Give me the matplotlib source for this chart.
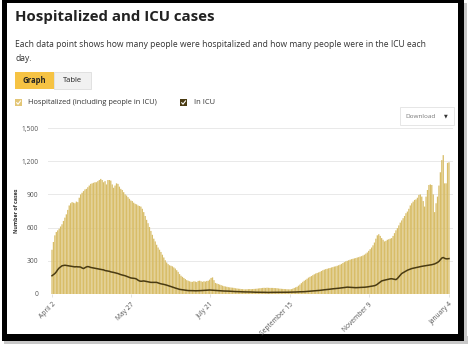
import numpy as np
import pandas as pd
import matplotlib
matplotlib.use("Agg")
import matplotlib.pyplot as plt
import matplotlib.dates as mdates
from matplotlib.patches import Rectangle

# daily values, April 2 2020 .. January 4 2021
hospitalized = [
    400, 470, 530, 560, 575, 590, 610,
    630, 660, 690, 720, 760, 800, 820,
    830, 825, 820, 835, 830, 870, 900,
    915, 930, 945, 950, 965, 980, 995,
    1000, 1005, 1010, 1010, 1020, 1030, 1040,
    1030, 1010, 1020, 990, 1030, 1030, 1025,
    990, 960, 980, 1000, 995, 970, 950,
    940, 920, 900, 890, 875, 860, 845,
    840, 825, 815, 810, 800, 795, 790,
    770, 740, 705, 670, 640, 605, 570,
    535, 500, 475, 445, 420, 400, 380,
    355, 330, 305, 285, 270, 260, 255,
    250, 240, 230, 215, 200, 180, 165,
    155, 145, 135, 125, 120, 115, 110,
    110, 115, 112, 108, 118, 120, 115,
    110, 115, 112, 118, 120, 130, 145,
    150, 125, 100, 95, 90, 85, 80,
    75, 70, 68, 65, 62, 60, 58,
    57, 55, 52, 50, 48, 47, 45,
    44, 42, 42, 43, 44, 45, 44,
    45, 46, 47, 48, 50, 52, 53,
    55, 56, 55, 57, 56, 55, 55,
    55, 54, 53, 52, 50, 48, 47,
    46, 45, 44, 43, 42, 42, 44,
    48, 55, 60, 65, 75, 85, 98,
    110, 120, 128, 138, 148, 155, 162,
    170, 178, 185, 190, 195, 200, 208,
    215, 220, 225, 228, 232, 235, 240,
    243, 248, 250, 255, 260, 265, 272,
    280, 288, 295, 300, 305, 310, 315,
    318, 322, 325, 330, 333, 338, 342,
    348, 355, 365, 375, 390, 405, 420,
    440, 465, 500, 530, 540, 525, 505,
    490, 475, 480, 490, 495, 500, 505,
    525, 550, 575, 595, 620, 645, 665,
    685, 705, 730, 745, 770, 800, 820,
    835, 850, 855, 870, 895, 900, 880,
    840, 790, 880, 940, 985, 990, 985,
    900, 740, 820, 880, 980, 1100, 1210,
    1255, 1000, 1000, 1185, 1190,
]

in_icu = [
    165, 175, 185, 200, 220, 235, 245,
    255, 258, 260, 258, 255, 255, 252,
    250, 248, 245, 247, 245, 245, 243,
    235, 230, 238, 245, 248, 245, 240,
    238, 235, 232, 230, 228, 225, 222,
    220, 218, 212, 210, 207, 205, 200,
    198, 195, 192, 190, 185, 180, 175,
    172, 168, 165, 160, 155, 150, 145,
    143, 142, 140, 135, 125, 118, 115,
    117, 118, 116, 113, 110, 108, 105,
    105, 105, 104, 105, 100, 96, 92,
    90, 87, 84, 80, 76, 72, 68,
    63, 58, 54, 50, 46, 42, 40,
    38, 36, 34, 32, 31, 31, 30,
    30, 30, 29, 30, 30, 30, 31,
    32, 33, 34, 35, 35, 36, 35,
    34, 33, 32, 31, 30, 29, 28,
    28, 27, 27, 26, 26, 25, 25,
    24, 23, 22, 22, 21, 21, 20,
    20, 19, 19, 18, 18, 18, 18,
    17, 17, 16, 16, 16, 15, 15,
    15, 15, 15, 14, 14, 15, 15,
    15, 14, 14, 15, 15, 15, 15,
    15, 15, 16, 16, 16, 17, 17,
    17, 18, 18, 19, 19, 20, 20,
    21, 21, 22, 22, 23, 24, 25,
    26, 27, 28, 30, 31, 33, 35,
    36, 38, 39, 41, 42, 44, 45,
    47, 48, 50, 51, 52, 54, 55,
    57, 58, 60, 62, 61, 60, 59,
    58, 57, 57, 58, 58, 59, 60,
    60, 61, 62, 64, 66, 68, 70,
    72, 75, 80, 88, 98, 108, 118,
    122, 125, 128, 132, 135, 137, 138,
    135, 132, 130, 140, 155, 170, 185,
    192, 200, 208, 215, 220, 225, 230,
    233, 236, 240, 243, 245, 248, 250,
    252, 255, 256, 258, 260, 262, 265,
    268, 272, 278, 285, 295, 310, 325,
    330, 322, 318, 318, 320,
]

dates = pd.date_range("2020-04-02", periods=len(hospitalized), freq="D")
tick_dates = pd.to_datetime(["2020-04-02", "2020-05-27", "2020-07-21",
                             "2020-09-15", "2020-11-09", "2021-01-04"])
tick_labels = ["April 2", "May 27", "July 21", "September 15", "November 9", "January 4"]
y_ticks = [0, 300, 600, 900, 1200, 1500]

bar_col = "#d8bd68"
icu_col = "#4a3b12"

W, H = 468, 347
fig = plt.figure(figsize=(W / 100, H / 100), dpi=100)

# page frame drawn in pixel coordinates
bg = fig.add_axes([0, 0, 1, 1])
bg.set_xlim(0, W)
bg.set_ylim(H, 0)
bg.axis("off")
bg.add_patch(Rectangle((4, 336), 464, 8, color="#c8c8c8", lw=0))
bg.add_patch(Rectangle((460, 3), 7, 340, color="#c8c8c8", lw=0))
bg.add_patch(Rectangle((2, 0), 462, 341, color="black", lw=0))
bg.add_patch(Rectangle((7, 3), 451, 331, color="white", lw=0))

bg.text(15, 17, "Hospitalized and ICU cases", fontsize=10.8, fontweight="bold",
        family="Open Sans", color="#222222", va="center", ha="left")
bg.text(15, 44, "Each data point shows how many people were hospitalized and how many people were in the ICU each",
        fontsize=6.15, family="Open Sans", color="#333333", va="center", ha="left")
bg.text(15, 58, "day.", fontsize=6.15, family="Open Sans", color="#333333", va="center", ha="left")

# Graph / Table buttons
bg.add_patch(Rectangle((15, 72), 39, 17, color="#f6c343", lw=0))
bg.add_patch(Rectangle((54, 72), 37, 17, facecolor="#f1f1f1", edgecolor="#dddddd", lw=0.6))
bg.text(34.5, 80.5, "Graph", fontsize=5.5, fontweight="bold", family="Open Sans",
        color="#222222", ha="center", va="center")
bg.text(72.5, 80.5, "Table", fontsize=5.5, family="Open Sans",
        color="#222222", ha="center", va="center")

# legend checkboxes
for bx, col in [(15, "#e3c676"), (180, icu_col)]:
    bg.add_patch(Rectangle((bx, 99), 7, 7, color=col, lw=0))
    bg.plot([bx + 1.6, bx + 3.0, bx + 5.6], [102.6, 104.2, 100.8],
            color="white", lw=0.8, solid_capstyle="round")
bg.text(28, 102.5, "Hospitalized (including people in ICU)", fontsize=5.4,
        family="Open Sans", color="#333333", ha="left", va="center")
bg.text(194, 102.5, "In ICU", fontsize=5.4, family="Open Sans",
        color="#333333", ha="left", va="center")

# download box
bg.add_patch(Rectangle((400, 107), 54, 18, facecolor="white", edgecolor="#e2e2e2", lw=0.6))
bg.text(405, 116, "Download", fontsize=4.6, family="Open Sans", color="#777777",
        ha="left", va="center")
bg.text(446, 116, "\u25BC", fontsize=3.5, family="DejaVu Sans", color="#333333",
        ha="center", va="center")

bg.text(16, 211, "Number of cases", rotation=90, fontsize=3.9, fontweight="bold",
        family="Open Sans", color="#333333", ha="center", va="center")

# chart
x0, x1 = 48, 453
ybot, ytop = 294, 125.8
ax = fig.add_axes([x0 / W, (H - ybot) / H, (x1 - x0) / W, (ybot - ytop) / H])
ax.set_facecolor("none")
bars = ax.bar(dates, hospitalized, width=0.9, color=bar_col, lw=0, zorder=2)
for p in bars:
    p.set_snap(False)
ax.plot(dates, in_icu, color=icu_col, lw=1.1, zorder=3)

ax.set_xlim(dates[0] - pd.Timedelta(days=2.8), dates[-1] + pd.Timedelta(days=2.8))
ax.set_ylim(0, 1520)
ax.set_yticks(y_ticks)
ax.set_yticklabels([f"{v:,}" for v in y_ticks])
ax.set_xticks(tick_dates)
ax.set_xticklabels(tick_labels, rotation=45, ha="right", rotation_mode="anchor")
ax.grid(axis="y", color="#e9e9e9", lw=0.7, zorder=0)
for s in ax.spines.values():
    s.set_visible(False)
ax.tick_params(axis="y", length=0, pad=7, labelsize=4.8, labelcolor="#555555")
ax.tick_params(axis="x", length=2, width=0.4, color="#cccccc", pad=3,
               labelsize=4.8, labelcolor="#555555")
for lab in ax.get_xticklabels() + ax.get_yticklabels():
    lab.set_family("Open Sans")

fig.savefig("out.png", dpi=100)
